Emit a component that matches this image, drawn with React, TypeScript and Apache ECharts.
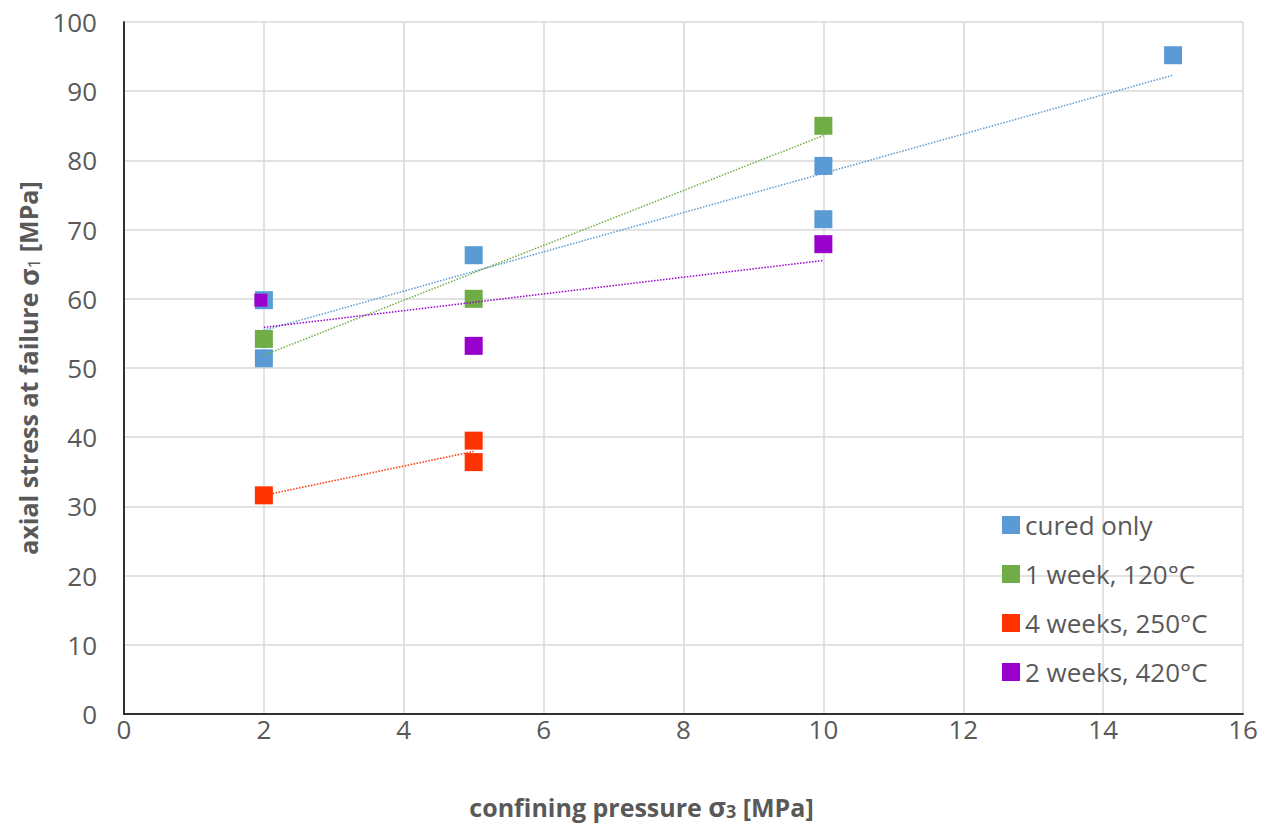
import React, { useEffect, useRef } from "react";
import * as echarts from "echarts";

const seriesNames = ["cured only", "1 week, 120°C", "4 weeks, 250°C", "2 weeks, 420°C"];
const seriesColors = ["#5B9BD5", "#70AD47", "#FF3300", "#9900CC"];

const curedOnlyX = [2, 2, 5, 10, 10, 15];
const curedOnlyY = [59.8, 51.4, 66.3, 79.2, 71.5, 95.2];
const week120X = [2, 5, 10];
const week120Y = [54.2, 60.0, 85.0];
const weeks250X = [2, 5, 5];
const weeks250Y = [31.6, 39.5, 36.4];
const weeks420X = [2, 5, 10];
const weeks420Y = [59.8, 53.2, 67.9];

const xTicks = [0, 2, 4, 6, 8, 10, 12, 14, 16];
const yTicks = [0, 10, 20, 30, 40, 50, 60, 70, 80, 90, 100];

const FONT = "'Open Sans', Lato, sans-serif";
const TXT = "#595959";

function fit(xs: number[], ys: number[]) {
  const n = xs.length;
  const mx = xs.reduce((a, b) => a + b, 0) / n;
  const my = ys.reduce((a, b) => a + b, 0) / n;
  let sxx = 0, sxy = 0;
  for (let i = 0; i < n; i++) {
    sxx += (xs[i] - mx) ** 2;
    sxy += (xs[i] - mx) * (ys[i] - my);
  }
  const b = sxy / sxx;
  const a = my - b * mx;
  const x0 = Math.min(...xs), x1 = Math.max(...xs);
  return [[x0, a + b * x0], [x1, a + b * x1]];
}

export default function App() {
  const ref = useRef<HTMLDivElement>(null);
  useEffect(() => {
    document.body.style.margin = "0";
    const chart = echarts.init(ref.current!, null, { renderer: "svg" });
    const groups = [
      [curedOnlyX, curedOnlyY],
      [week120X, week120Y],
      [weeks250X, weeks250Y],
      [weeks420X, weeks420Y],
    ];
    const scatters = groups.map(([xs, ys], si) => ({
      name: seriesNames[si],
      type: "scatter",
      symbol: "rect",
      symbolSize: 18,
      itemStyle: { color: seriesColors[si], opacity: 1 },
      z: 3,
      data: xs.map((x, i) => {
        if (si === 3 && i === 0) {
          return { value: [x, ys[i]], symbolSize: 13, symbolOffset: [-3, 0] };
        }
        return [x, ys[i]];
      }),
    }));
    const trends = groups.map(([xs, ys], si) => ({
      name: seriesNames[si] + " trend",
      type: "line",
      symbol: "none",
      silent: true,
      z: 4,
      lineStyle: { color: seriesColors[si], width: 1.5, type: "dotted" },
      data: fit(xs, ys),
    }));
    const sub = (size: number, bold: boolean) => ({
      fontSize: size,
      fontFamily: FONT,
      color: TXT,
      fontWeight: bold ? "bold" : "normal",
      verticalAlign: "bottom",
    });
    chart.setOption({
      animation: false,
      backgroundColor: "#ffffff",
      grid: { left: 124, top: 22, width: 1119, height: 692, containLabel: false },
      legend: {
        data: seriesNames,
        orient: "vertical",
        left: 997,
        top: 507,
        itemWidth: 18,
        itemHeight: 18,
        itemGap: 23,
        icon: "rect",
        textStyle: { fontSize: 26, color: TXT, fontFamily: FONT, padding: [0, 0, 0, 0] },
      },
      xAxis: [
        {
          type: "value",
          min: 0,
          max: 16,
          interval: 2,
          name: "confining pressure {s|σ}{sub|3} [MPa]",
          nameLocation: "middle",
          nameGap: 79,
          nameTextStyle: {
            fontSize: 25,
            fontWeight: "bold",
            color: TXT,
            fontFamily: FONT,
            padding: [0, 84, 0, 0],
            rich: { s: { fontSize: 27, fontWeight: "bold", color: TXT, fontFamily: FONT }, sub: sub(18, true) },
          },
          axisLine: { show: true, lineStyle: { color: "#262626", width: 1.5 } },
          axisTick: { show: false },
          axisLabel: { fontSize: 26, color: TXT, fontFamily: FONT, margin: 2 },
          splitLine: { show: true, lineStyle: { color: "#d9d9d9", width: 1.5 } },
        },
        {
          type: "value",
          position: "top",
          min: 0,
          max: 16,
          interval: 2,
          axisLine: { show: true, lineStyle: { color: "#262626", width: 1.5 } },
          axisTick: { show: false },
          axisLabel: { show: false },
          splitLine: { show: false },
        },
      ],
      yAxis: [
        {
          type: "value",
          min: 0,
          max: 100,
          interval: 10,
          name: "axial stress at failure {s|σ}{sub|1} [MPa]",
          nameLocation: "middle",
          nameGap: 81,
          nameTextStyle: {
            fontSize: 25,
            fontWeight: "bold",
            color: TXT,
            fontFamily: FONT,
            rich: { s: { fontSize: 27, color: TXT, fontFamily: FONT }, sub: sub(17, false) },
          },
          axisLine: { show: true, lineStyle: { color: "#262626", width: 1.5 } },
          axisTick: { show: false },
          axisLabel: { fontSize: 26, color: TXT, fontFamily: FONT, margin: 27 },
          splitLine: { show: true, lineStyle: { color: "#d9d9d9", width: 1.5 } },
        },
        {
          type: "value",
          position: "right",
          min: 0,
          max: 100,
          interval: 10,
          axisLine: { show: true, lineStyle: { color: "#262626", width: 1.5 } },
          axisTick: { show: false },
          axisLabel: { show: false },
          splitLine: { show: false },
        },
      ],
      series: [...scatters, ...trends],
    });
    return () => chart.dispose();
  }, []);
  return <div ref={ref} style={{ position: "fixed", left: 0, top: 0, width: 1261, height: 825 }} />;
}
